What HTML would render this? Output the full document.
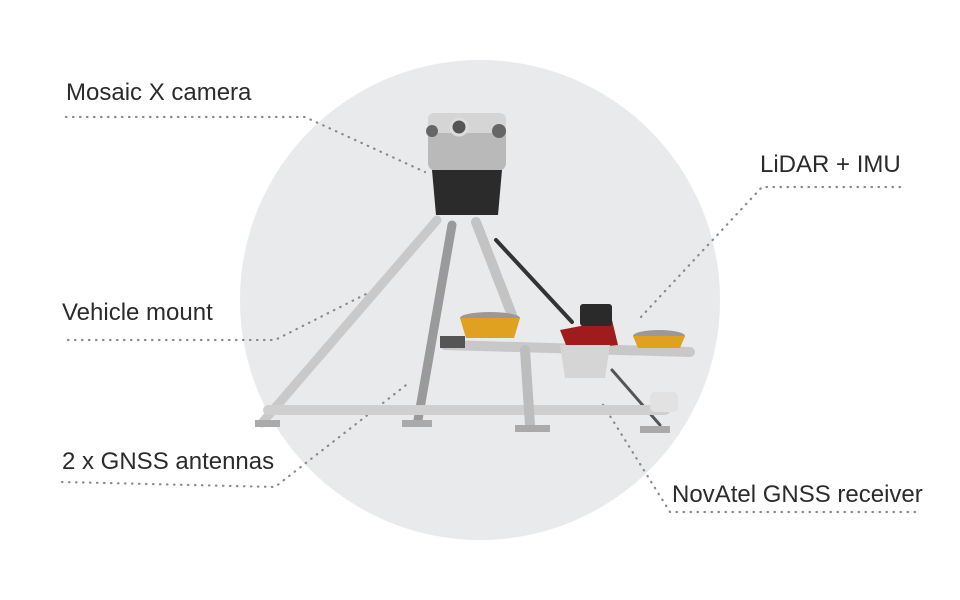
<!DOCTYPE html>
<html><head><style>
body{margin:0;background:#fff;}
svg{display:block}
text{font-family:"Liberation Sans",sans-serif;font-size:24px;fill:#2b2b2b;}
</style></head><body>
<svg width="960" height="600" viewBox="0 0 960 600">
<circle cx="480" cy="300" r="240" fill="#e9eaec"/>
<g stroke="#8a8a8a" stroke-width="2.2" stroke-dasharray="0.5 6.5" stroke-linecap="round" fill="none">
<polyline points="66,117 305,117 425,172"/>
<polyline points="900,187 762,187 640,318"/>
<polyline points="68,340 275,340 370,292"/>
<polyline points="62,482 275,487 410,382"/>
<polyline points="915,512 670,512 600,400"/>
</g>
<text x="66" y="100">Mosaic X camera</text>
<text x="760" y="172">LiDAR + IMU</text>
<text x="62" y="320">Vehicle mount</text>
<text x="62" y="469">2 x GNSS antennas</text>
<text x="672" y="502">NovAtel GNSS receiver</text>
<g stroke-linecap="round">
<line x1="437" y1="220" x2="262" y2="423" stroke="#c9c9c9" stroke-width="9"/>
<line x1="452" y1="225" x2="418" y2="420" stroke="#9a9a9a" stroke-width="9"/>
<line x1="476" y1="222" x2="512" y2="315" stroke="#c3c3c3" stroke-width="10"/>
<line x1="496" y1="240" x2="572" y2="322" stroke="#333" stroke-width="4"/>
<line x1="612" y1="370" x2="660" y2="425" stroke="#555" stroke-width="3"/>
<line x1="268" y1="410" x2="665" y2="410" stroke="#cfcfcf" stroke-width="10"/>
<line x1="445" y1="345" x2="690" y2="352" stroke="#c8c8c8" stroke-width="10"/>
<line x1="525" y1="350" x2="530" y2="425" stroke="#bdbdbd" stroke-width="10"/>
</g>
<rect x="440" y="336" width="25" height="12" fill="#555"/>
<rect x="428" y="113" width="78" height="58" rx="8" fill="#b9b9b9"/>
<rect x="428" y="113" width="78" height="20" rx="6" fill="#d5d5d5"/>
<circle cx="459" cy="127" r="8" fill="#555" stroke="#ddd" stroke-width="3"/>
<circle cx="499" cy="131" r="7" fill="#666"/>
<circle cx="432" cy="131" r="6" fill="#666"/>
<path d="M432 170 H502 L498 215 H436 Z" fill="#2b2b2b"/>
<path d="M560 330 L612 320 L618 345 L568 350 Z" fill="#a01c1c"/>
<rect x="580" y="304" width="32" height="22" rx="3" fill="#2a2a2a"/>
<path d="M560 345 L610 345 L605 378 L565 378 Z" fill="#d5d5d5"/>
<ellipse cx="490" cy="318" rx="30" ry="6" fill="#999"/>
<path d="M460 318 H520 L514 338 H466 Z" fill="#e0a020"/>
<ellipse cx="659" cy="336" rx="26" ry="6" fill="#999"/>
<path d="M633 336 H685 L680 348 H638 Z" fill="#e0a020"/>
<rect x="650" y="392" width="28" height="20" rx="5" fill="#e2e2e2"/>
<rect x="402" y="420" width="30" height="7" fill="#aaa"/>
<rect x="515" y="425" width="35" height="7" fill="#aaa"/>
<rect x="255" y="420" width="25" height="7" fill="#aaa"/>
<rect x="640" y="426" width="30" height="7" fill="#aaa"/>
</svg>
</body></html>
